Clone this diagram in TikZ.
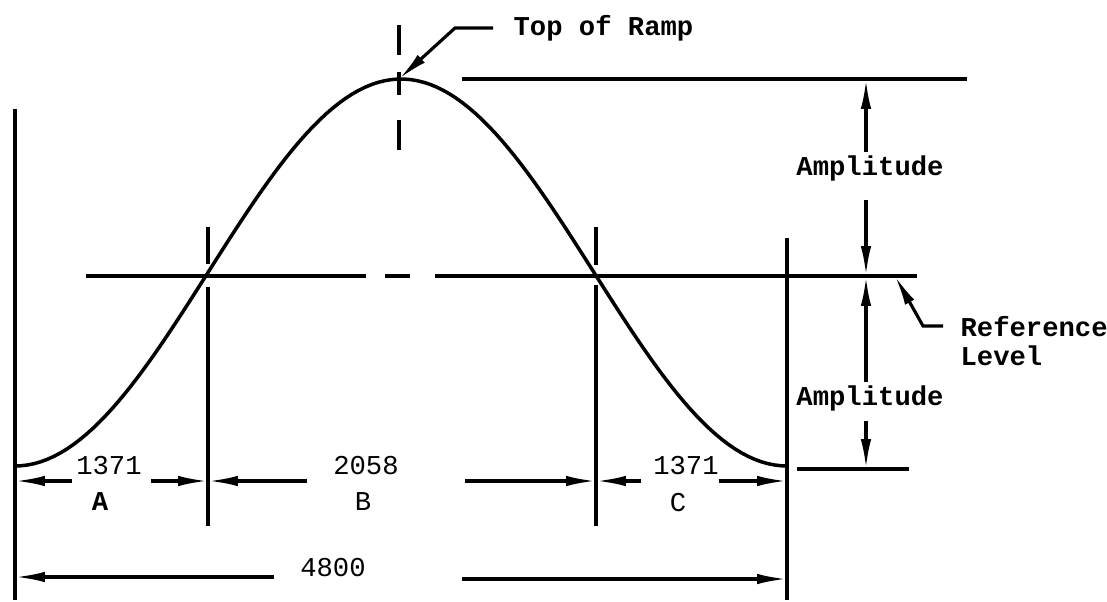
\documentclass[tikz,border=0pt]{standalone}
\usepackage{fontspec}
\setmonofont{Liberation Mono}
\usetikzlibrary{arrows.meta,calc}

\begin{document}
\begin{tikzpicture}[x=0.02cm,y=-0.02cm,>={Latex[length=6mm,width=2.1mm]},line width=1.8pt,
		lbl/.style={font=\ttfamily\bfseries\fontsize{15.5}{16.5}\selectfont,inner sep=0pt},
		num/.style={font=\ttfamily\fontsize{15.5}{16.5}\selectfont,inner sep=0pt}]
		\useasboundingbox (0,0) rectangle (1107,602);
		\def\ref{276}
		\coordinate (Peak) at (399,79);
		\coordinate (Aleft) at (15,481);
		\coordinate (Bleft) at (208,481);
		\coordinate (Bright) at (596,481);
		\coordinate (Cright) at (787,481);
		\coordinate (Top) at (866,79);
		\coordinate (Mid) at (866,\ref);
		\coordinate (Bot) at (866,469);
		% ramp
		\draw[line width=2pt] plot[domain=15:787,samples=120] (\x,{272.5-193.5*cos((\x-401)*0.4663)});
		% extension lines
		\draw (15,109) -- (15,600);
		\draw (787,238) -- (787,600);
		\draw (208,227) -- (208,264) (208,287) -- (208,526);
		\draw (596,227) -- (596,265) (596,285) -- (596,526);
		\draw (399,25) -- (399,55) (399,72) -- (399,95) (399,120) -- (399,150);
		\draw (86,\ref) -- (366,\ref) (385,\ref) -- (410,\ref) (435,\ref) -- (917,\ref);
		\draw (462,79) -- (967,79);
		\draw (797,469) -- (909,469);
		% amplitudes
		\draw[->] ($(Top)+(0,73)$) -- (Top);
		\draw[->] ($(Mid)+(0,-76)$) -- (Mid);
		\draw[->] ($(Mid)+(0,106)$) -- (Mid);
		\draw[->] ($(Bot)+(0,-48)$) -- (Bot);
		\node[lbl] (amp1) at (870,168) {Amplitude};
		\node[lbl] (amp2) at (870,398) {Amplitude};
		% leaders
		\draw[->] (493,28) -- (455,28) -- (Peak);
		\node[lbl,anchor=west] (ramp) at (512,28) {Top of Ramp};
		\draw[->] (943,326) -- (923,326) -- (895,\ref);
		\node[lbl,anchor=west] (refl) at (959,327) {Reference};
		\node[lbl,anchor=west] (level) at (959,356) {Level};
		% dimensions
		\draw[->] ($(Aleft)+(57,0)$) -- (Aleft);
		\draw[->] ($(Bleft)+(-57,0)$) -- (Bleft);
		\draw[->] ($(Bleft)+(99,0)$) -- (Bleft);
		\draw[->] ($(Bright)+(-131,0)$) -- (Bright);
		\draw[->] ($(Bright)+(45,0)$) -- (Bright);
		\draw[->] ($(Cright)+(-68,0)$) -- (Cright);
		\draw[->] (274,577) -- (15,577);
		\draw[->] (462,579) -- (787,579);
		\node[num] (dA) at (109,466) {1371};
		\node[lbl] (nA) at (100,502) {A};
		\node[num] (dB) at (366,466) {2058};
		\node[num] (nB) at (363,502) {B};
		\node[num] (dC) at (686,466) {1371};
		\node[num] (nC) at (678,503) {C};
		\node[num] (dall) at (333,568) {4800};
	\end{tikzpicture}
\end{document}
